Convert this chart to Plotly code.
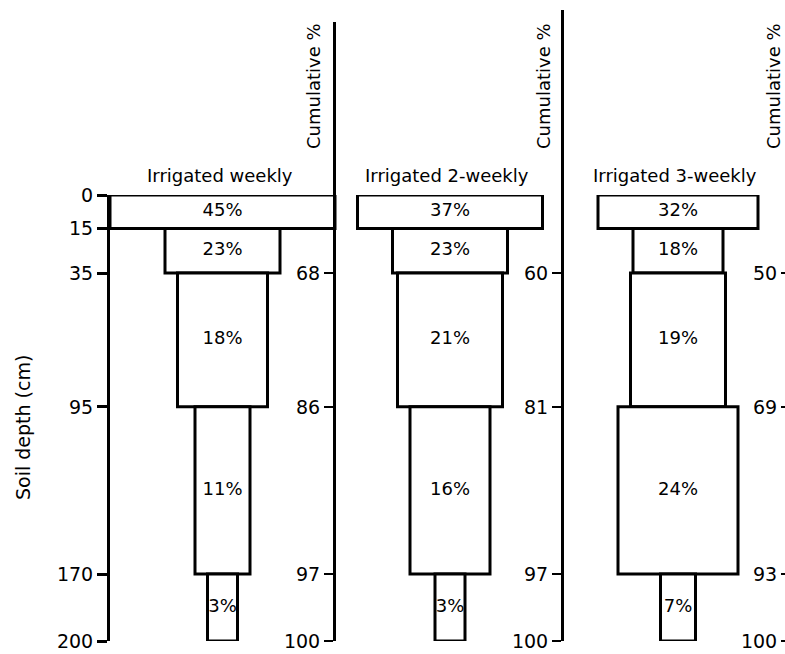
import numpy as np
import plotly.graph_objects as go

# ---- data ----
panel_titles = ["Irrigated weekly", "Irrigated 2-weekly", "Irrigated 3-weekly"]
depth_bounds = [0, 15, 35, 95, 170, 200]          # soil depth layer boundaries (cm)
pct_weekly = [45, 23, 18, 11, 3]
pct_2weekly = [37, 23, 21, 16, 3]
pct_3weekly = [32, 18, 19, 24, 7]
depth_ticks = [0, 15, 35, 95, 170, 200]
axis_title_left = "Soil depth (cm)"
axis_title_right = "Cumulative %"

# ---- geometry (pixels) ----
W, H = 785, 654
X0, X1 = 110, 785
PX_PER_PCT = 5.0
MIN_W = 30
Y_TOP, Y_BOT = 195, 641          # pixel rows of depth 0 and depth 200
PX_PER_CM = (Y_BOT - Y_TOP) / 200.0
centers = [X0 + 45 * PX_PER_PCT / 2, 450, 678]
axis_pos_px = [334, 562, 785]
axis_top_px = [22, 10, Y_TOP]
FONT = "DejaVu Sans"
FS = 18
TICK_FS = 19


def pyp(pix):
    return 1 - pix / H


fig = go.Figure()
pcts = [pct_weekly, pct_2weekly, pct_3weekly]
tops = np.array(depth_bounds[:-1], float)
bots = np.array(depth_bounds[1:], float)
mids = (tops + bots) / 2
thick = bots - tops

for i, p in enumerate(pcts):
    p = np.array(p, float)
    widths = np.maximum(p * PX_PER_PCT, MIN_W)
    fig.add_trace(go.Bar(
        orientation="h", y=mids, x=widths, base=centers[i] - widths / 2,
        width=thick, marker=dict(color="white", line=dict(color="black", width=3)),
        xaxis="x", yaxis="y", showlegend=False, hoverinfo="skip"))
    fig.add_trace(go.Scatter(
        x=[centers[i]] * len(p), y=mids, mode="text",
        text=[f"{int(v)}%" for v in p],
        textfont=dict(family=FONT, size=FS, color="black"),
        xaxis="x", yaxis="y", showlegend=False, hoverinfo="skip"))

layout = dict(
    width=W, height=H, margin=dict(l=X0, r=W - X1, t=0, b=0, autoexpand=False),
    plot_bgcolor="rgba(0,0,0,0)", paper_bgcolor="white", barmode="overlay",
    font=dict(family=FONT, size=FS, color="black"),
    xaxis=dict(range=[X0, X1], visible=False, domain=[0, 1]),
    yaxis=dict(range=[200, 0], domain=[pyp(Y_BOT), pyp(Y_TOP)],
               tickvals=depth_ticks, ticktext=[str(v) for v in depth_ticks],
               ticks="outside", ticklen=10, tickwidth=3, tickcolor="black",
               showline=True, linewidth=3, linecolor="black", ticklabeloverflow="allow",
               showgrid=False, zeroline=False, tickfont=dict(size=TICK_FS)),
)

for i, p in enumerate(pcts):
    cum = np.cumsum(p)
    name = f"yaxis{i + 2}"
    top_depth = -(Y_TOP - axis_top_px[i]) / PX_PER_CM
    pos = (axis_pos_px[i] - X0) / (X1 - X0)
    layout[name] = dict(
        range=[200, top_depth], domain=[pyp(Y_BOT), pyp(axis_top_px[i])],
        anchor="free", position=min(pos, 1.0), side="left",
        tickvals=depth_bounds[2:], ticktext=[str(int(c)) for c in cum[1:]],
        ticks="outside", ticklen=9 if i < 2 else 4, tickwidth=2, tickcolor="black",
        showline=(i < 2), linewidth=3, linecolor="black", ticklabeloverflow="allow",
        showgrid=False, zeroline=False, tickfont=dict(size=TICK_FS))
    fig.add_trace(go.Scatter(x=[centers[i]], y=[100], mode="markers",
                             marker=dict(opacity=0), xaxis="x", yaxis=f"y{i + 2}",
                             showlegend=False, hoverinfo="skip"))

fig.update_layout(**layout)

ann = []
for i, t in enumerate(panel_titles):
    ann.append(dict(x=centers[i] - 3, y=pyp(176), xref="x", yref="paper", text=t,
                    showarrow=False, font=dict(size=FS), xanchor="center", yanchor="middle"))
for xp in [313, 543, 773]:
    ann.append(dict(x=(xp - X0) / (X1 - X0), y=pyp(86), xref="paper", yref="paper",
                    text=axis_title_right, textangle=-90, showarrow=False,
                    font=dict(size=FS), xanchor="center", yanchor="middle"))
ann.append(dict(x=(23 - X0) / (X1 - X0), y=pyp(428), xref="paper", yref="paper",
                text=axis_title_left, textangle=-90, showarrow=False,
                font=dict(size=19), xanchor="center", yanchor="middle"))
fig.update_layout(annotations=ann)

fig.write_html("out.html", config={"displayModeBar": False},
               post_script="document.body.style.margin='0';document.body.style.overflow='hidden';")
